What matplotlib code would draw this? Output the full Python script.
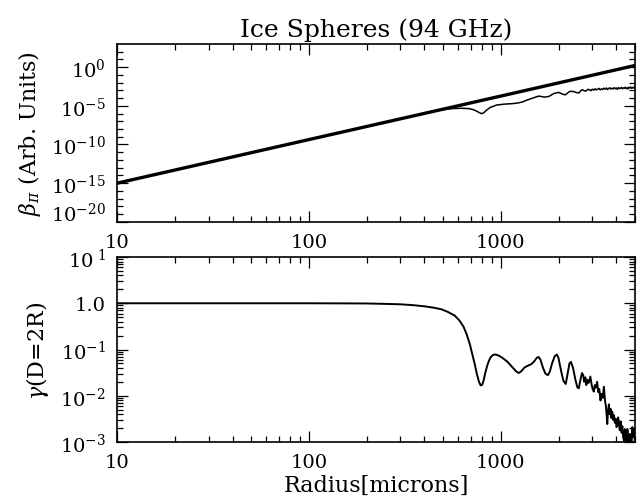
import matplotlib
matplotlib.use("Agg")
import matplotlib.pyplot as plt
import matplotlib.transforms as mtransforms
from matplotlib.ticker import FixedLocator, NullFormatter, FixedFormatter

plt.rcParams['font.family'] = ['DejaVu Serif']
plt.rcParams['mathtext.fontset'] = 'dejavuserif'

# Rayleigh (straight) curve, top panel
ray_r = [10, 100, 1000, 5000]
ray_beta = [1e-15, 4.3e-10, 1.8e-4, 1.6e0]

# Mie backscatter, top panel (log10 values)
mie_r = [10, 100, 300, 450, 520, 560, 620, 680, 720, 750, 775, 794, 815, 840,
         880, 952, 1050, 1150, 1238, 1300, 1350, 1450, 1530, 1575, 1630, 1680,
         1780, 1850, 1900, 2003, 2060, 2100, 2172, 2240, 2300, 2380, 2450, 2550,
         2600, 2656, 2720, 2780, 2840, 2900, 2950, 3000, 3050, 3100, 3150, 3200,
         3250, 3300, 3350, 3400, 3450, 3500, 3550, 3600, 3650, 3700, 3750, 3800,
         3850, 3900, 3950, 4000, 4050, 4100, 4150, 4200, 4250, 4300, 4350, 4400,
         4450, 4500, 4550, 4600, 4650, 4700, 4750, 4800, 4850, 4900, 4950, 5000]
mie_logbeta = [-15.0, -9.37, -6.68, -5.69, -5.45, -5.36, -5.32, -5.36, -5.5, -5.7,
               -5.9, -6.02, -5.9, -5.6, -5.22, -4.9, -4.78, -4.72, -4.62, -4.5,
               -4.32, -4.05, -3.85, -3.75, -3.8, -3.88, -3.8, -3.55, -3.4, -3.27,
               -3.4, -3.5, -3.58, -3.3, -3.12, -3.15, -3.25, -3.35, -3.1, -2.92,
               -3.05, -3.1, -2.88, -2.92, -3.05, -2.85, -2.98, -2.8, -2.95, -2.85,
               -2.75, -2.95, -2.8, -2.9, -2.72, -2.85, -2.7, -2.9, -2.75, -2.68,
               -2.85, -2.72, -2.82, -2.66, -2.8, -2.7, -2.88, -2.65, -2.78, -2.72,
               -2.62, -2.8, -2.68, -2.75, -2.6, -2.78, -2.66, -2.82, -2.6, -2.7,
               -2.58, -2.75, -2.62, -2.7, -2.58, -2.68]

# gamma(D=2R), bottom panel
gam_r = [10, 50, 100, 150, 200, 250, 300, 350, 400, 450, 491, 530, 576, 610, 640,
         665, 690, 710, 730, 750, 770, 785, 800, 815, 830, 850, 870, 890, 915, 940,
         975, 1020, 1080, 1140, 1200, 1240, 1280, 1330, 1390, 1440, 1490, 1540,
         1575, 1610, 1660, 1710, 1760, 1800, 1850, 1910, 1960, 2000, 2060, 2120,
         2180, 2230, 2280, 2320, 2380, 2450, 2510, 2550, 2600, 2650, 2690, 2720,
         2760, 2790, 2830, 2870, 2930, 2970, 3010, 3055, 3090, 3130, 3178, 3220,
         3260, 3309, 3350, 3400, 3446, 3490, 3530, 3560, 3587, 3620, 3660, 3700,
         3734, 3770, 3810, 3850, 3889, 3930, 3970, 4010, 4049, 4090, 4130, 4170,
         4215, 4260, 4300, 4340, 4388, 4430, 4480, 4520, 4568, 4610, 4660, 4710,
         4756, 4800, 4850, 4900, 4952, 5000]
gam = [1.0, 1.0, 1.0, 0.995, 0.99, 0.97, 0.95, 0.91, 0.86, 0.8, 0.74, 0.65, 0.54,
       0.42, 0.31, 0.21, 0.13, 0.08, 0.05, 0.03, 0.02, 0.0168, 0.0172, 0.022,
       0.031, 0.045, 0.059, 0.07, 0.077, 0.078, 0.074, 0.066, 0.055, 0.043, 0.034,
       0.031, 0.034, 0.041, 0.045, 0.048, 0.055, 0.066, 0.069, 0.06, 0.04, 0.03,
       0.028, 0.033, 0.05, 0.072, 0.078, 0.065, 0.035, 0.021, 0.018, 0.03, 0.05,
       0.054, 0.04, 0.022, 0.015, 0.0145, 0.022, 0.031, 0.028, 0.02, 0.025, 0.017,
       0.022, 0.019, 0.026, 0.018, 0.014, 0.0123, 0.017, 0.015, 0.02, 0.012, 0.014,
       0.0079, 0.011, 0.009, 0.0157, 0.008, 0.006, 0.004, 0.00245, 0.0045, 0.0065,
       0.004, 0.0052, 0.0033, 0.0045, 0.003, 0.0038, 0.0026, 0.0032, 0.0021,
       0.0023, 0.0034, 0.0025, 0.0018, 0.0028, 0.0016, 0.0022, 0.0013, 0.00107,
       0.0019, 0.0014, 0.0009, 0.0019, 0.0012, 0.0008, 0.0015, 0.00118, 0.0009,
       0.0021, 0.0013, 0.0019, 0.0009]

beta_ticks = [1e-20, 1e-15, 1e-10, 1e-5, 1e0]
beta_labels = [r'$10^{-20}$', r'$10^{-15}$', r'$10^{-10}$', r'$10^{-5}$', r'$10^{0}$']
gam_ticks = [1e-3, 1e-2, 1e-1, 1e0, 1e1]
gam_labels = [r'$10^{-3}$', r'$10^{-2}$', r'$10^{-1}$', '1.0', r'$10^{\ 1}$']
x_ticks = [10, 100, 1000]
x_labels = ['10', '100', '1000']


def style_axis(ax):
    ax.set_xscale('log')
    ax.set_yscale('log')
    ax.set_xlim(10, 5000)
    ax.xaxis.set_major_locator(FixedLocator(x_ticks))
    ax.xaxis.set_major_formatter(FixedFormatter(x_labels))
    xminor = [m * 10 ** k for k in range(1, 4) for m in range(2, 10)]
    ax.xaxis.set_minor_locator(FixedLocator(xminor))
    ax.xaxis.set_minor_formatter(NullFormatter())
    ax.tick_params(which='both', direction='in', top=True, right=True,
                   labelsize=14, width=0.9)
    ax.tick_params(which='major', length=8, pad=8)
    ax.tick_params(which='minor', length=4)
    for s in ax.spines.values():
        s.set_linewidth(1.2)


fig = plt.figure(figsize=(6.41, 5.02), dpi=100)
ax1 = fig.add_axes([0.1825, 0.556, 0.808, 0.3546])
ax2 = fig.add_axes([0.1825, 0.1175, 0.808, 0.3685])

# top panel
ax1.plot(ray_r, ray_beta, color='black', lw=2.4)
ax1.plot(mie_r, [10 ** v for v in mie_logbeta], color='black', lw=1.1)
style_axis(ax1)
ax1.set_ylim(1e-20, 1e3)
ax1.yaxis.set_major_locator(FixedLocator(beta_ticks))
ax1.yaxis.set_major_formatter(FixedFormatter(beta_labels))
ax1.yaxis.set_minor_locator(FixedLocator([10.0 ** k for k in range(-20, 3)]))
ax1.yaxis.set_minor_formatter(NullFormatter())
ax1.set_ylabel(r'$\beta_\pi$ (Arb. Units)', fontsize=16, labelpad=6)
ax1.set_title('Ice Spheres (94 GHz)', fontsize=18, pad=6)
# lowest label sits a little above the bottom edge, as in the original
shift = mtransforms.ScaledTranslation(0, 8 / 72, fig.dpi_scale_trans)
lab0 = ax1.get_yticklabels()[0]
lab0.set_transform(lab0.get_transform() + shift)

# bottom panel
ax2.plot(gam_r, gam, color='black', lw=1.4)
style_axis(ax2)
ax2.set_ylim(1e-3, 10)
ax2.yaxis.set_major_locator(FixedLocator(gam_ticks))
ax2.yaxis.set_major_formatter(FixedFormatter(gam_labels))
yminor = [m * 10.0 ** k for k in range(-3, 1) for m in range(2, 10)]
ax2.yaxis.set_minor_locator(FixedLocator(yminor))
ax2.yaxis.set_minor_formatter(NullFormatter())
ax2.set_ylabel(r'$\gamma$(D=2R)', fontsize=16, labelpad=6)
ax2.set_xlabel('Radius[microns]', fontsize=16, labelpad=2)

fig.savefig('out.png', dpi=100)
